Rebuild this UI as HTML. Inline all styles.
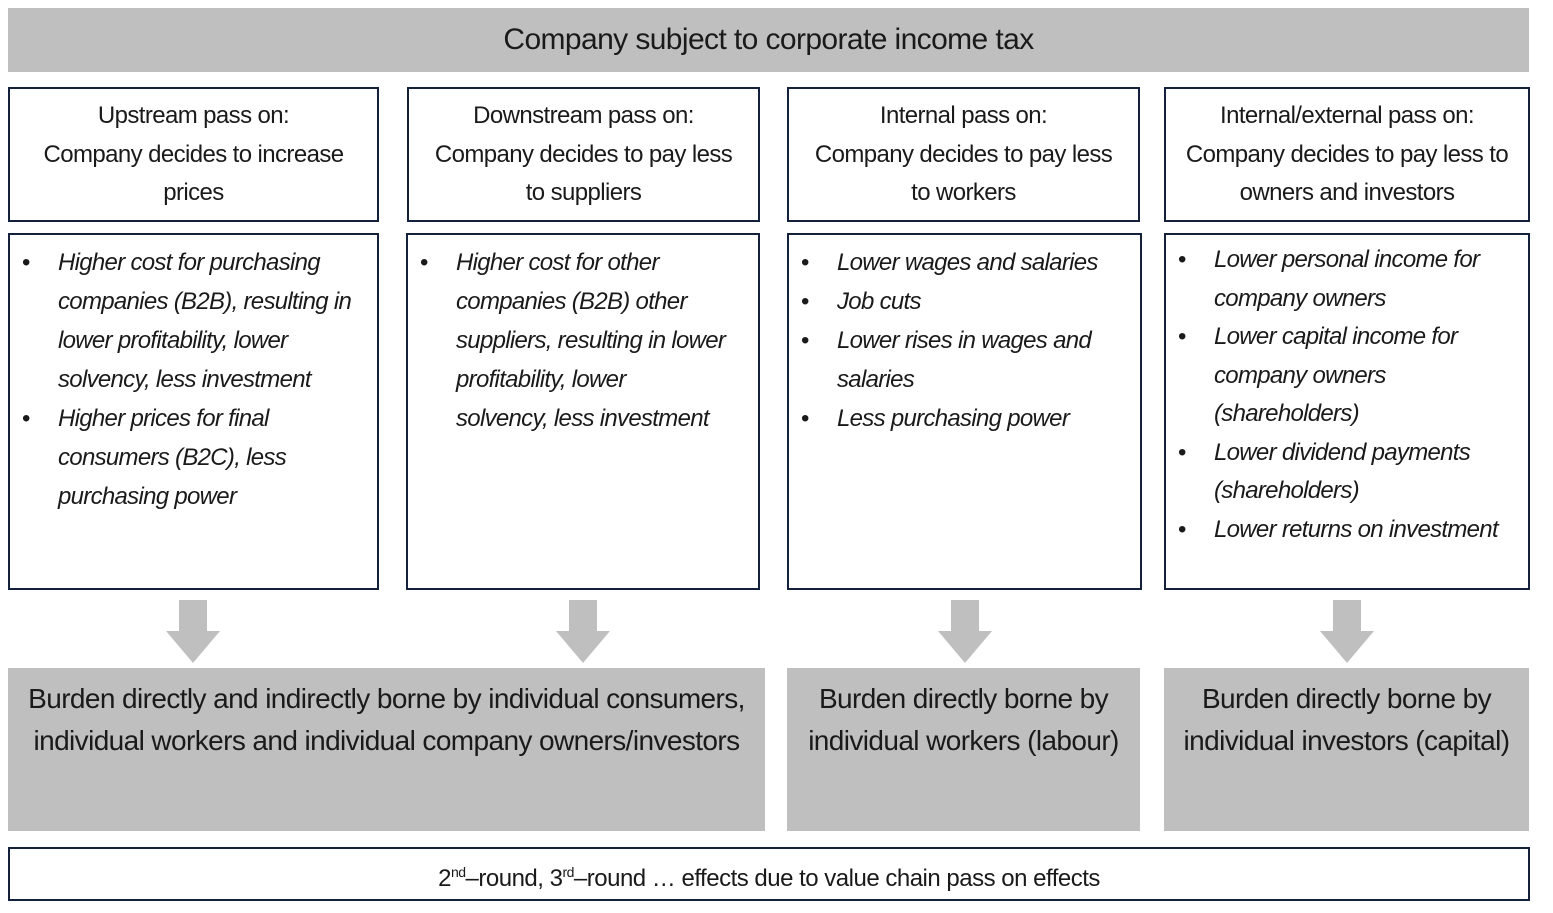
<!DOCTYPE html>
<html><head><style>
body{margin:0;width:1553px;height:913px;background:#fff;position:relative;font-family:"Liberation Sans",sans-serif;color:#1a1a1a;overflow:hidden}
.b{position:absolute;box-sizing:border-box}
.g{background:#bfbfbf}
.o{border:2px solid #14213d}
.h{text-align:center;font-size:24px;line-height:38.5px;padding-top:8px;letter-spacing:-0.6px}
ul{margin:0;padding:0 6px 0 48px;font-style:italic;font-size:24px;line-height:39px;letter-spacing:-0.7px;padding-top:8px;list-style:none}
li{position:relative}
li:before{content:"•";position:absolute;left:-36px;font-style:normal}
.big{font-size:28px;line-height:42px;text-align:center;letter-spacing:-0.6px;padding-top:10px}
svg{position:absolute}
</style></head><body>
<div class="b g" style="left:8px;top:8px;width:1521px;height:64px;font-size:30px;text-align:center;line-height:64px;letter-spacing:-0.6px">Company subject to corporate income tax</div>

<div class="b o h" style="left:8px;top:87px;width:371px;height:135px">Upstream pass on:<br>Company decides to increase<br>prices</div>
<div class="b o h" style="left:407px;top:87px;width:353px;height:135px">Downstream pass on:<br>Company decides to pay less<br>to suppliers</div>
<div class="b o h" style="left:787px;top:87px;width:353px;height:135px">Internal pass on:<br>Company decides to pay less<br>to workers</div>
<div class="b o h" style="left:1164px;top:87px;width:366px;height:135px">Internal/external pass on:<br>Company decides to pay less to<br>owners and investors</div>

<div class="b o" style="left:8px;top:233px;width:371px;height:357px"><ul><li>Higher cost for purchasing companies (B2B), resulting in lower profitability, lower solvency, less investment</li><li>Higher prices for final consumers (B2C), less purchasing power</li></ul></div>
<div class="b o" style="left:406px;top:233px;width:354px;height:357px"><ul><li>Higher cost for other companies (B2B) other suppliers, resulting in lower profitability, lower<br>solvency, less investment</li></ul></div>
<div class="b o" style="left:787px;top:233px;width:355px;height:357px"><ul><li>Lower wages and salaries</li><li>Job cuts</li><li>Lower rises in wages and salaries</li><li>Less purchasing power</li></ul></div>
<div class="b o" style="left:1164px;top:233px;width:366px;height:357px"><ul style="padding-top:6px;line-height:38.5px"><li>Lower personal income for company owners</li><li>Lower capital income for company owners (shareholders)</li><li>Lower dividend payments (shareholders)</li><li>Lower returns on investment</li></ul></div>

<svg width="1553" height="913" style="left:0;top:0">
<g fill="#bfbfbf">
<polygon points="179,600 207,600 207,631 220,631 193,663 166,631 179,631"/>
<polygon points="569,600 597,600 597,631 610,631 583,663 556,631 569,631"/>
<polygon points="951,600 979,600 979,631 992,631 965,663 938,631 951,631"/>
<polygon points="1333,600 1361,600 1361,631 1374,631 1347,663 1320,631 1333,631"/>
</g></svg>

<div class="b g big" style="left:8px;top:668px;width:757px;height:163px">Burden directly and indirectly borne by individual consumers,<br>individual workers and individual company owners/investors</div>
<div class="b g big" style="left:787px;top:668px;width:353px;height:163px">Burden directly borne by<br>individual workers (labour)</div>
<div class="b g big" style="left:1164px;top:668px;width:365px;height:163px">Burden directly borne by<br>individual investors (capital)</div>

<div class="b o" style="left:8px;top:847px;width:1522px;height:54px;text-align:center;font-size:24px;line-height:46px;letter-spacing:-0.5px">2<sup style="font-size:14px">nd</sup>–round, 3<sup style="font-size:14px">rd</sup>–round … effects due to value chain pass on effects</div>
</body></html>
